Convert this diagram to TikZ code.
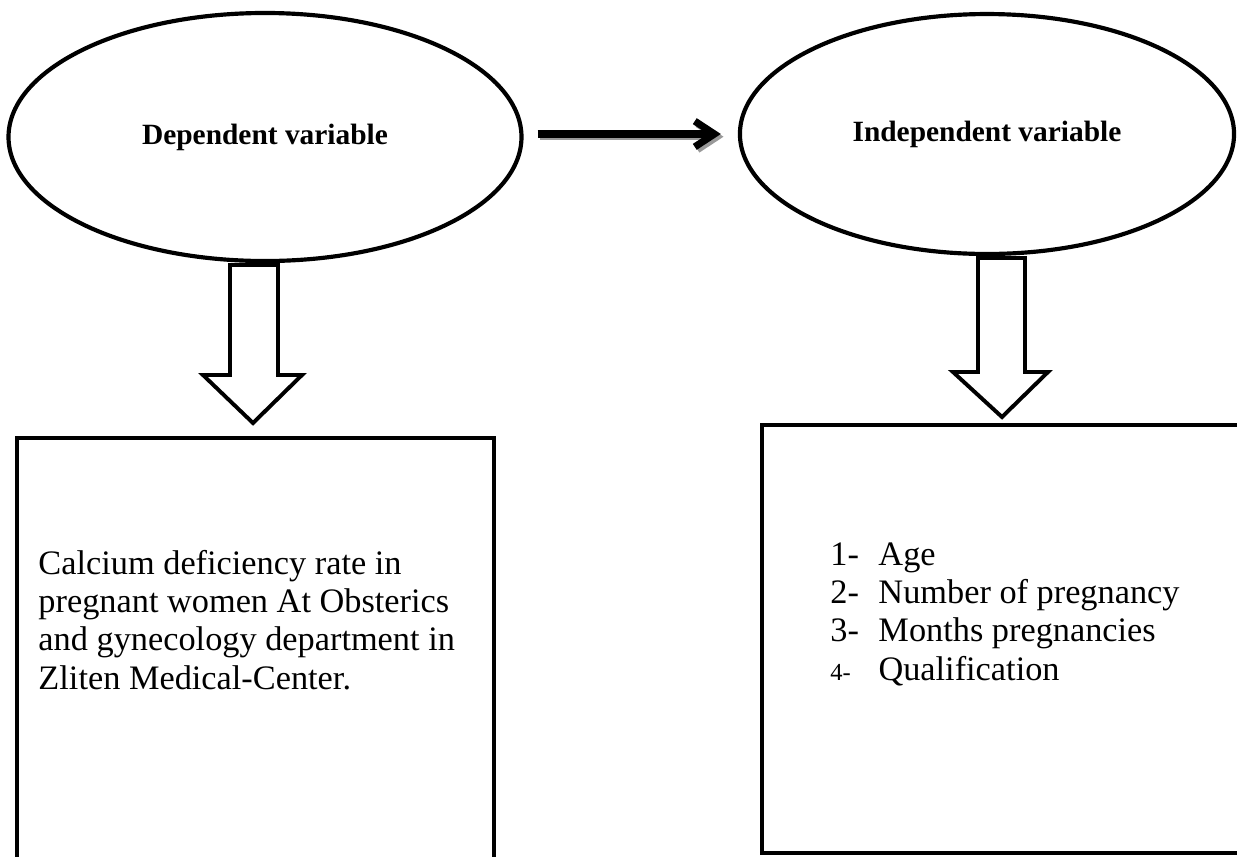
\documentclass[tikz,border=0pt]{standalone}
\usepackage{fontspec}
\setmainfont{Liberation Serif}
\usetikzlibrary{shapes.geometric,arrows.meta,calc}
\begin{document}
\begin{tikzpicture}[x=0.408pt,y=-0.408pt,
  oval/.style={ellipse,draw,line width=1.7pt,inner sep=0pt,font=\bfseries\fontsize{12}{14}\selectfont},
  frame/.style={draw,line width=1.8pt,anchor=north west,inner sep=0pt},
  blockarrow/.style={draw,line width=1.6pt,fill=white,line join=miter},
  flow/.style={line width=2.9pt,-{Straight Barb[length=8pt,width=10.5pt]}},
  flowshadow/.style={flow,draw=black!40,transform canvas={shift={(1.1pt,-1.1pt)}}},
  bodytext/.style={anchor=base west,inner sep=0pt,font=\fontsize{14}{15.7}\selectfont}
]
\path[use as bounding box] (0,0) rectangle (1237,856);
\clip (0,0) rectangle (1237,856);

% ellipses
\node[oval,minimum width=209.3pt,minimum height=101.2pt] (e1) at (265,137) {Dependent variable};
\node[oval,minimum width=201.6pt,minimum height=97.9pt] (e2) at (987,134) {Independent variable};

% arrow between ellipses
\coordinate (a1) at ($(e1.east)+(14,-3)$);
\coordinate (a2) at ($(e2.west)+(-17,0)$);
\draw[flowshadow] (a1) -- (a2);
\draw[flow] (a1) -- (a2);

% block arrows
\draw[blockarrow] (230,265) -- (278,265) -- (278,375) -- (302,375) -- (253,423) -- (203,375) -- (230,375) -- cycle;
\draw[blockarrow] (978,258) -- (1025,258) -- (1025,372) -- (1048,372) -- (1002,417) -- (953,372) -- (978,372) -- cycle;

% boxes
\node[frame,minimum width=194.6pt,minimum height=181.2pt] (b1) at (15,436) {};
\node[frame,minimum width=199.9pt,minimum height=174.6pt] (b2) at (760,423) {};

% texts
\node[bodytext] (t1) at (38,574) {\begin{tabular}[t]{@{}l@{}}Calcium deficiency rate in\\pregnant women At Obsterics\\and gynecology department in\\Zliten Medical-Center.\end{tabular}};
\node[bodytext] (t2) at (830,565) {\begin{tabular}[t]{@{}l@{}l@{}}\makebox[19.6pt][l]{1-}&Age\\\makebox[19.6pt][l]{2-}&Number of pregnancy\\\makebox[19.6pt][l]{3-}&Months pregnancies\\\makebox[19.6pt][l]{\fontsize{10}{12}\selectfont 4-}&Qualification\end{tabular}};
\end{tikzpicture}
\end{document}
